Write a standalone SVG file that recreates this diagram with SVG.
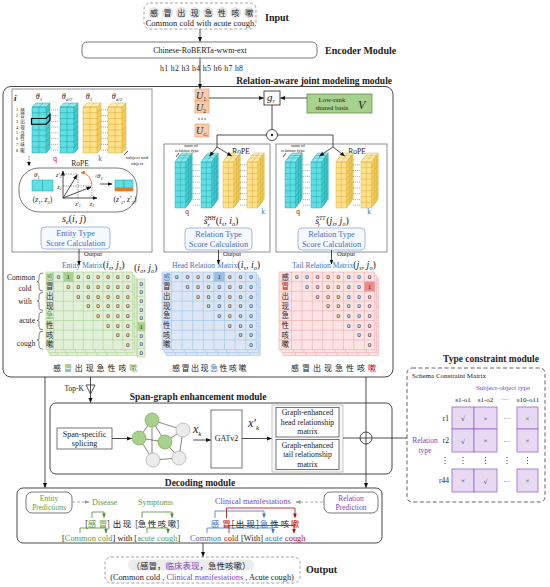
<svg xmlns="http://www.w3.org/2000/svg" width="550" height="587" viewBox="0 0 550 587">
<defs>
<style>
text{font-family:"Liberation Serif","Noto Sans CJK SC",serif;fill:#222}
.cj{font-family:"Noto Sans CJK SC","Liberation Serif",sans-serif}
.b{font-weight:bold}
.i{font-style:italic}
.m{text-anchor:middle}
.e{text-anchor:end}
.ln{fill:none;stroke:#222;stroke-width:0.8}
.dl{fill:none;stroke:#999;stroke-width:0.8;stroke-dasharray:3 2}
.bx{fill:#fff;stroke:#555;stroke-width:0.8}
.sc{fill:#f5f8fd;stroke:#8faadc;stroke-width:0.8}
.blue{fill:#4472c4}
.red{fill:#c00000}
.grn{fill:#5e9c3f}
.pur{fill:#7f3fbf}
.dig{font-size:7px;text-anchor:middle}
.lab{font-size:7.5px;text-anchor:middle}
.cell{fill:#e8d9f3;stroke:#9966cc;stroke-width:0.8}
</style>
<marker id="a" viewBox="0 0 10 10" refX="9" refY="5" markerWidth="5" markerHeight="5" markerUnits="userSpaceOnUse" orient="auto"><path d="M0,1L10,5L0,9Z" fill="#111"/></marker>
<marker id="ag" viewBox="0 0 10 10" refX="9" refY="5" markerWidth="5" markerHeight="5" markerUnits="userSpaceOnUse" orient="auto"><path d="M0,1L10,5L0,9Z" fill="#999"/></marker>
<marker id="aG" viewBox="0 0 10 10" refX="9" refY="5" markerWidth="4.5" markerHeight="4.5" markerUnits="userSpaceOnUse" orient="auto"><path d="M0,1L10,5L0,9Z" fill="#4f8a33"/></marker>
<marker id="aB" viewBox="0 0 10 10" refX="9" refY="5" markerWidth="4.5" markerHeight="4.5" markerUnits="userSpaceOnUse" orient="auto"><path d="M0,1L10,5L0,9Z" fill="#4472c4"/></marker>
<marker id="aR" viewBox="0 0 10 10" refX="9" refY="5" markerWidth="4.5" markerHeight="4.5" markerUnits="userSpaceOnUse" orient="auto"><path d="M0,1L10,5L0,9Z" fill="#c00000"/></marker>
<marker id="aO" viewBox="0 0 10 10" refX="9" refY="5" markerWidth="4" markerHeight="4" markerUnits="userSpaceOnUse" orient="auto"><path d="M0,1L10,5L0,9Z" fill="#e87722"/></marker>
<g id="cb">
<path d="M0,0L4,-4H18L14,0Z" fill="#8eeaec"/>
<path d="M14,0L18,-4V42L14,46Z" fill="#3fcbd0"/>
<rect width="14" height="46" fill="#5fdfe3"/>
<path d="M0,0L4,-4H18L14,0ZM14,46L18,42V-4M0,0H14V46H0ZM7,0V46M0,5.75H14M0,11.5H14M0,17.25H14M0,23H14M0,28.75H14M0,34.5H14M0,40.25H14M7,0L11,-4M14,5.75L18,1.75M14,11.5L18,7.5M14,17.25L18,13.25M14,23L18,19M14,28.75L18,24.75M14,34.5L18,30.5M14,40.25L18,36.25" fill="none" stroke="#1a9aa0" stroke-width="0.45"/>
</g>
<g id="yb">
<path d="M0,0L4,-4H18L14,0Z" fill="#ffeeb5"/>
<path d="M14,0L18,-4V42L14,46Z" fill="#f3cd62"/>
<rect width="14" height="46" fill="#ffe08c"/>
<path d="M0,0L4,-4H18L14,0ZM14,46L18,42V-4M0,0H14V46H0ZM7,0V46M0,5.75H14M0,11.5H14M0,17.25H14M0,23H14M0,28.75H14M0,34.5H14M0,40.25H14M7,0L11,-4M14,5.75L18,1.75M14,11.5L18,7.5M14,17.25L18,13.25M14,23L18,19M14,28.75L18,24.75M14,34.5L18,30.5M14,40.25L18,36.25" fill="none" stroke="#d4a31c" stroke-width="0.45"/>
</g>
<g id="cbs"><use href="#cb" x="5" y="-5"/><use href="#cb" x="2.5" y="-2.5"/><use href="#cb"/></g>
<g id="ybs"><use href="#yb" x="5" y="-5"/><use href="#yb" x="2.5" y="-2.5"/><use href="#yb"/></g>
<g id="dt" stroke="#333" stroke-width="0.6" stroke-dasharray="0.7 1.2"><path d="M0,2.9h7M0,8.65h7M0,14.4h7M0,20.15h7M0,25.9h7M0,31.65h7M0,37.4h7M0,43.15h7"/></g>
<g id="gE"><rect x="46" y="272" width="86.7" height="77.6" fill="#e2efd9"/><path d="M46,272V349.6M53.5,272V349.6M63.4,272V349.6M73.3,272V349.6M83.2,272V349.6M93.1,272V349.6M103,272V349.6M112.9,272V349.6M122.8,272V349.6M132.7,272V349.6M46,272H132.7M46,281.7H132.7M46,291.4H132.7M46,301.1H132.7M46,310.8H132.7M46,320.5H132.7M46,330.2H132.7M46,339.9H132.7M46,349.6H132.7" fill="none" stroke="#a9d18e" stroke-width="0.6"/></g>
<g id="gH"><rect x="162" y="272" width="94.3" height="77.6" fill="#dde6f5"/><path d="M162,272V349.6M171.5,272V349.6M182.1,272V349.6M192.7,272V349.6M203.3,272V349.6M213.9,272V349.6M224.5,272V349.6M235.1,272V349.6M245.7,272V349.6M256.3,272V349.6M162,272H256.3M162,281.7H256.3M162,291.4H256.3M162,301.1H256.3M162,310.8H256.3M162,320.5H256.3M162,330.2H256.3M162,339.9H256.3M162,349.6H256.3" fill="none" stroke="#9dc3e6" stroke-width="0.6"/></g>
<g id="gT"><rect x="279" y="272" width="95.7" height="77.6" fill="#fce4e4"/><path d="M279,272V349.6M291.5,272V349.6M301.9,272V349.6M312.3,272V349.6M322.7,272V349.6M333.1,272V349.6M343.5,272V349.6M353.9,272V349.6M364.3,272V349.6M374.7,272V349.6M279,272H374.7M279,281.7H374.7M279,291.4H374.7M279,301.1H374.7M279,310.8H374.7M279,320.5H374.7M279,330.2H374.7M279,339.9H374.7M279,349.6H374.7" fill="none" stroke="#f2a9a9" stroke-width="0.6"/></g>
</defs>
<rect width="550" height="587" fill="#fff"/>

<!-- Input -->
<g id="input">
<rect x="144" y="3" width="112" height="26" rx="6" fill="#fff" stroke="#999" stroke-width="0.9" stroke-dasharray="3 2"/>
<g fill="#e3e3e3"><circle cx="154" cy="12.5" r="5.5"/><circle cx="167.6" cy="12.5" r="5.5"/><circle cx="181.2" cy="12.5" r="5.5"/><circle cx="194.8" cy="12.5" r="5.5"/><circle cx="208.4" cy="12.5" r="5.5"/><circle cx="222" cy="12.5" r="5.5"/><circle cx="235.6" cy="12.5" r="5.5"/><circle cx="249.2" cy="12.5" r="5.5"/></g>
<text class="cj m" font-size="8" x="154 167.6 181.2 194.8 208.4 222 235.6 249.2" y="15.5">感冒出现急性咳嗽</text>
<text class="m" font-size="8.5" x="200" y="26">Common cold with acute cough</text>
<text class="b" font-size="10" x="265" y="20.5">Input</text>
</g>

<!-- Encoder -->
<g id="encoder">
<rect x="82" y="42" width="235" height="16" rx="5" class="bx"/>
<text class="m" font-size="8" x="200" y="53">Chinese-RoBERTa-wwm-ext</text>
<text class="b" font-size="10" x="325" y="53.5">Encoder Module</text>
<text font-size="7.8" x="160" y="70.5" textLength="83">h1 h2 h3 h4 h5 h6 h7 h8</text>
</g>

<!-- Relation-aware joint modeling module -->
<g id="relation-module">
<text class="b e" font-size="9.5" x="392" y="84">Relation-aware joint modeling module</text>
<rect x="3" y="86.5" width="390" height="290.5" rx="8" fill="none" stroke="#333" stroke-width="0.9"/>
</g>

<!-- Entity box -->
<g id="entity-box">
<rect x="12" y="89" width="140" height="163" fill="#fff" stroke="#777" stroke-width="0.8"/>
<text class="b i" font-size="9" x="14" y="101">i</text>
<text font-size="4.2" class="m" x="17 17 17 17 17 17 17 17" y="111.4 117.1 122.9 128.6 134.4 140.1 145.9 151.6">12345678</text>
<text font-size="4.6" class="cj m" x="22.5 22.5 22.5 22.5 22.5 22.5 22.5 22.5" y="111.5 117.2 123 128.7 134.5 140.2 146 151.7">感冒出现急性咳嗽</text>
<text class="i m" font-size="8" x="39" y="99">θ<tspan font-size="5" dy="1.5">1</tspan></text>
<text class="i m" font-size="8" x="67" y="99">θ<tspan font-size="5" dy="1.5">d/2</tspan></text>
<text class="i m" font-size="8" x="89" y="99">θ<tspan font-size="5" dy="1.5">1</tspan></text>
<text class="i m" font-size="8" x="117" y="99">θ<tspan font-size="5" dy="1.5">d/2</tspan></text>
<use href="#cb" x="32" y="107"/>
<use href="#cb" x="60" y="107"/>
<use href="#yb" x="83" y="107"/>
<use href="#yb" x="108" y="107"/>
<use href="#dt" x="51.5" y="107"/>
<use href="#dt" x="101.5" y="107"/>
<path d="M31.5,118.5H46L50,114.5V120.25L46,124.25H31.5Z" fill="none" stroke="#000" stroke-width="1.2"/>
<text class="red m" font-size="7.5" x="55" y="161">q</text>
<text class="blue m" font-size="7.5" x="100" y="161">k</text>
<text class="m" font-size="7.5" x="80" y="166">RoPE</text>
<path d="M124,155L128,151" class="ln" stroke-width="0.5"/>
<text class="m" font-size="5" x="137" y="159">subject and</text>
<text class="m" font-size="5" x="137" y="164.5">object</text>
<path d="M29,156V166" fill="none" stroke="#333" stroke-width="0.6" stroke-dasharray="1.5 1" marker-end="url(#a)"/>
<rect x="19" y="168" width="118" height="44" rx="20" fill="#fff" stroke="#555" stroke-width="0.8"/>
<text class="i" font-size="7" x="34" y="177">θ<tspan font-size="4.5" dy="1.5">1</tspan></text>
<g stroke="#1a9aa0" stroke-width="0.5" fill="#5fdfe3"><rect x="32" y="180" width="10.5" height="11"/><rect x="42.5" y="180" width="10.5" height="11"/></g>
<text class="m" font-size="7.5" x="42.5" y="202">(<tspan class="i">z</tspan><tspan font-size="5" dy="1.5">1</tspan><tspan dy="-1.5">, </tspan><tspan class="i">z</tspan><tspan font-size="5" dy="1.5">2</tspan><tspan dy="-1.5">)</tspan></text>
<path d="M63,198H97" class="ln" stroke-width="0.7" marker-end="url(#a)"/>
<path d="M63,198V171" class="ln" stroke-width="0.7" marker-end="url(#a)"/>
<path d="M63,174H78V198M63,186H92V198" fill="none" stroke="#333" stroke-width="0.5" stroke-dasharray="1.5 1"/>
<path d="M63,198L77,175" class="ln" stroke-width="0.7" marker-end="url(#a)"/>
<path d="M63,198L91,187" class="ln" stroke-width="0.7" marker-end="url(#a)"/>
<path d="M92,185Q91,174 81,172.5" fill="none" stroke="#e87722" stroke-width="0.9" marker-end="url(#aO)"/>
<circle cx="84" cy="172" r="1.2" fill="#e87722"/>
<text class="i" font-size="7" x="95" y="178"><tspan fill="#e87722">i</tspan>θ<tspan font-size="4.5" dy="1.5">1</tspan></text>
<text class="i e" font-size="6" x="61.5" y="176.5">z'<tspan font-size="4" dy="1.2">2</tspan></text>
<text class="i e" font-size="6" x="61.5" y="188.5">z<tspan font-size="4" dy="1.2">2</tspan></text>
<text class="i m" font-size="6" x="78" y="206">z'<tspan font-size="4" dy="1.2">1</tspan></text>
<text class="i m" font-size="6" x="92" y="206">z<tspan font-size="4" dy="1.2">1</tspan></text>
<path d="M100,184H112" class="ln" marker-end="url(#a)"/>
<g stroke="#1a9aa0" stroke-width="0.5" fill="#5fdfe3"><rect x="115" y="180" width="9" height="11"/><rect x="124" y="180" width="9" height="11"/></g>
<rect x="115" y="187.5" width="18" height="3.5" fill="#e87722"/>
<text class="m" font-size="7.5" x="125" y="202">(<tspan class="i">z'</tspan><tspan font-size="5" dy="1.5">1</tspan><tspan dy="-1.5">, </tspan><tspan class="i">z'</tspan><tspan font-size="5" dy="1.5">2</tspan><tspan dy="-1.5">)</tspan></text>
<text class="m" font-size="10" x="74" y="222"><tspan class="i">s</tspan><tspan font-size="6.5" dy="2" class="i">e</tspan><tspan dy="-2">(</tspan><tspan class="i">i</tspan>, <tspan class="i">j</tspan>)</text>
<rect x="41" y="227" width="69" height="22" rx="4" class="sc"/>
<text class="blue m" font-size="8.3" x="75.5" y="236">Entity Type</text>
<text class="blue m" font-size="8.3" x="75.5" y="246">Score Calculation</text>
</g>

<!-- U / g_r / V -->
<g id="u-stack">
<rect x="195" y="89" width="14" height="12" fill="#f8cbad" stroke="#ed9a6a" stroke-width="0.6"/>
<rect x="195" y="101" width="14" height="12" fill="#f8cbad" stroke="#ed9a6a" stroke-width="0.6"/>
<rect x="195" y="124" width="14" height="13" fill="#f8cbad" stroke="#ed9a6a" stroke-width="0.6"/>
<text class="i" font-size="10" x="196" y="99">U<tspan font-size="5.5" dy="2" font-style="normal">1</tspan></text>
<text class="i" font-size="10" x="196" y="111">U<tspan font-size="5.5" dy="2" font-style="normal">2</tspan></text>
<g fill="#222"><circle cx="199" cy="119" r="0.7"/><circle cx="202" cy="119" r="0.7"/><circle cx="205" cy="119" r="0.7"/></g>
<text class="i" font-size="10" x="196" y="134">U<tspan font-size="5" dy="2">C</tspan><tspan font-size="3.5" dy="1">r</tspan></text>
</g>
<g id="gr">
<rect x="264" y="91" width="16" height="14" fill="#fff" stroke="#222" stroke-width="0.8"/>
<text class="i" font-size="11" x="267" y="100.5">g<tspan font-size="6" dy="2">r</tspan></text>
</g>
<g id="shared-basis">
<rect x="307" y="94" width="65" height="19" fill="#a9d18e" stroke="#548235" stroke-width="0.7"/>
<text class="m" font-size="6.8" x="332" y="102">Low-rank</text>
<text class="m" font-size="6.8" x="332" y="110">shared basis</text>
<text class="i" font-size="12" x="358" y="108.5">V</text>
</g>
<g id="odot">
<circle cx="272" cy="135" r="5.5" fill="#fff" stroke="#222" stroke-width="0.8"/>
<circle cx="272" cy="135" r="1.2" fill="#222"/>
</g>

<!-- Head relation box -->
<g id="head-box">
<rect x="164" y="144" width="106" height="108" fill="#fff" stroke="#777" stroke-width="0.8"/>
<text class="m" font-size="4.8" x="191" y="147">num of</text>
<text class="m" font-size="4.8" x="187" y="151.5">relation type</text>
<path d="M176,157L179,153" class="ln" stroke-width="0.5"/>
<text class="m" font-size="7.5" x="241" y="154">RoPE</text>
<use href="#cbs" transform="translate(175,162) scale(0.75,1)"/>
<use href="#cbs" transform="translate(201,162) scale(0.75,1)"/>
<use href="#ybs" transform="translate(223,162) scale(0.75,1)"/>
<use href="#ybs" transform="translate(247,162) scale(0.75,1)"/>
<use href="#dt" x="193" y="162"/>
<use href="#dt" x="240" y="162"/>
<text class="red m" font-size="7.5" x="187" y="214">q</text>
<text class="blue m" font-size="7.5" x="263" y="214">k</text>
<text class="m" font-size="10" x="221" y="224"><tspan class="i">s̃</tspan><tspan font-size="5.5" dy="-4.5" class="i">HH</tspan><tspan font-size="5.5" dx="-8" dy="7" class="i">r</tspan><tspan dx="6" dy="-2.5">(</tspan><tspan class="i">i</tspan><tspan font-size="6" dy="2" class="i">s</tspan><tspan dy="-2">, </tspan><tspan class="i">i</tspan><tspan font-size="6" dy="2" class="i">o</tspan><tspan dy="-2">)</tspan></text>
<rect x="185" y="228" width="67" height="22" rx="4" class="sc"/>
<text class="blue m" font-size="8.3" x="218.5" y="237">Relation Type</text>
<text class="blue m" font-size="8.3" x="218.5" y="247">Score Calculation</text>
</g>

<!-- Tail relation box -->
<g id="tail-box">
<rect x="276" y="144" width="111" height="108" fill="#fff" stroke="#777" stroke-width="0.8"/>
<text class="m" font-size="4.8" x="298" y="147">num of</text>
<text class="m" font-size="4.8" x="293" y="151.5">relation type</text>
<path d="M283,157L286,153" class="ln" stroke-width="0.5"/>
<text class="m" font-size="7.5" x="357" y="154">RoPE</text>
<use href="#cbs" transform="translate(285,162) scale(0.75,1)"/>
<use href="#cbs" transform="translate(311,162) scale(0.75,1)"/>
<use href="#ybs" transform="translate(336,162) scale(0.75,1)"/>
<use href="#ybs" transform="translate(361,162) scale(0.75,1)"/>
<use href="#dt" x="303" y="162"/>
<use href="#dt" x="353.5" y="162"/>
<text class="red m" font-size="7.5" x="298" y="214">q</text>
<text class="blue m" font-size="7.5" x="369" y="214">k</text>
<text class="m" font-size="10" x="332" y="224"><tspan class="i">s̃</tspan><tspan font-size="5.5" dy="-4.5" class="i">TT</tspan><tspan font-size="5.5" dx="-7" dy="7" class="i">r</tspan><tspan dx="6" dy="-2.5">(</tspan><tspan class="i">j</tspan><tspan font-size="6" dy="2" class="i">s</tspan><tspan dy="-2">, </tspan><tspan class="i">j</tspan><tspan font-size="6" dy="2" class="i">o</tspan><tspan dy="-2">)</tspan></text>
<rect x="298" y="228" width="67" height="22" rx="4" class="sc"/>
<text class="blue m" font-size="8.3" x="331.5" y="237">Relation Type</text>
<text class="blue m" font-size="8.3" x="331.5" y="247">Score Calculation</text>
</g>

<!-- Entity matrix -->
<g id="entity-matrix">
<text font-size="6.5" x="84" y="256">Output</text>
<text font-size="7.5" x="62" y="267.5"><tspan class="blue">Entity Matrix</tspan><tspan font-size="10">(</tspan><tspan font-size="10" class="i">i</tspan><tspan font-size="6" dy="2" class="i">s</tspan><tspan font-size="10" dy="-2">, </tspan><tspan font-size="10" class="i">j</tspan><tspan font-size="6" dy="2" class="i">s</tspan><tspan font-size="10" dy="-2">)</tspan></text>
<text font-size="10" x="134" y="271">(<tspan class="i">i</tspan><tspan font-size="6" dy="2" class="i">o</tspan><tspan dy="-2">, </tspan><tspan class="i">j</tspan><tspan font-size="6" dy="2" class="i">o</tspan><tspan dy="-2">)</tspan></text>
<use href="#gE" x="4" y="6"/>
<use href="#gE" x="2" y="3"/>
<use href="#gE"/>
<rect x="63.4" y="272" width="9.9" height="9.7" fill="#a9d08e"/>
<g fill="#e2efd9" stroke="#a9d18e" stroke-width="0.6"><rect x="137.5" y="279" width="7.5" height="78"/></g>
<rect x="137.5" y="322.33" width="7.5" height="8.67" fill="#a9d08e"/>
<path d="M137.5,287.67h7.5M137.5,296.33h7.5M137.5,305h7.5M137.5,313.67h7.5M137.5,322.33h7.5M137.5,331h7.5M137.5,339.67h7.5M137.5,348.33h7.5" stroke="#a9d18e" stroke-width="0.6"/>
<text class="dig" font-size="6.5" x="141.25 141.25 141.25 141.25 141.25 141.25 141.25 141.25 141.25" y="285.6 294.3 302.9 311.6 320.3 328.9 337.6 346.3 354.9">000001000</text>
<g class="dig">
<text x="58.45 68.35 78.25 88.15 98.05 107.95 117.85 127.75" y="279.2">01000000</text>
<text x="68.35 78.25 88.15 98.05 107.95 117.85 127.75" y="288.9">0000000</text>
<text x="78.25 88.15 98.05 107.95 117.85 127.75" y="298.6">000000</text>
<text x="88.15 98.05 107.95 117.85 127.75" y="308.3">00000</text>
<text x="98.05 107.95 117.85 127.75" y="318">0000</text>
<text x="107.95 117.85 127.75" y="327.7">000</text>
<text x="117.85 127.75" y="337.4">00</text>
<text x="127.75" y="347.1">0</text>
</g>
<text class="cj lab" x="49.75 49.75 49.75 49.75 49.75 49.75 49.75 49.75" y="279.5 289.2 298.9 308.6 318.3 328 337.7 347.4"><tspan class="grn">感</tspan>冒出现<tspan class="grn">急</tspan>性咳嗽</text>
<text class="cj" font-size="8" text-anchor="middle" x="57 67.9 78.8 89.7 100.6 111.5 122.4 133.3" y="371">感<tspan class="grn">冒</tspan>出现急性咳<tspan class="grn">嗽</tspan></text>
<text class="e" font-size="7.5" x="35" y="280">Common</text>
<text class="m" font-size="7.5" x="25" y="291">cold</text>
<text class="m" font-size="7.5" x="25" y="304">with</text>
<text class="e" font-size="7.5" x="35" y="323">acute</text>
<text class="m" font-size="7.5" x="26" y="346">cough</text>
<path d="M43,273Q39,273 39,276V280Q39,281.7 37,281.7Q39,281.7 39,283.4V288Q39,291 43,291M43,292.4Q39,292.4 39,295.4V299.4Q39,301.1 37,301.1Q39,301.1 39,302.8V307.4Q39,310.4 43,310.4M43,311.8Q39,311.8 39,314.8V318.8Q39,320.5 37,320.5Q39,320.5 39,322.2V326.8Q39,329.8 43,329.8M43,331.2Q39,331.2 39,334.2V338.2Q39,339.9 37,339.9Q39,339.9 39,341.6V346.2Q39,349.2 43,349.2" fill="none" stroke="#333" stroke-width="0.6"/>
</g>

<!-- Head matrix -->
<g id="head-matrix">
<text font-size="6.5" x="223" y="255.5">Output</text>
<text font-size="7.5" x="172" y="267.5"><tspan class="blue">Head Relation Matrix</tspan><tspan font-size="10">(</tspan><tspan font-size="10" class="i">i</tspan><tspan font-size="6" dy="2" class="i">s</tspan><tspan font-size="10" dy="-2">, </tspan><tspan font-size="10" class="i">i</tspan><tspan font-size="6" dy="2" class="i">o</tspan><tspan font-size="10" dy="-2">)</tspan></text>
<use href="#gH" x="4" y="6"/>
<use href="#gH" x="2" y="3"/>
<use href="#gH"/>
<rect x="213.9" y="272" width="10.6" height="9.7" fill="#9dbfe6"/>
<g class="dig">
<text x="176.8 187.4 198 208.6 219.2 229.8 240.4 251" y="279.2">00001000</text>
<text x="187.4 198 208.6 219.2 229.8 240.4 251" y="288.9">0000000</text>
<text x="198 208.6 219.2 229.8 240.4 251" y="298.6">000000</text>
<text x="208.6 219.2 229.8 240.4 251" y="308.3">00000</text>
<text x="219.2 229.8 240.4 251" y="318">0000</text>
<text x="229.8 240.4 251" y="327.7">000</text>
<text x="240.4 251" y="337.4">00</text>
<text x="251" y="347.1">0</text>
</g>
<text class="cj lab" x="166.75 166.75 166.75 166.75 166.75 166.75 166.75 166.75" y="279.5 289.2 298.9 308.6 318.3 328 337.7 347.4"><tspan class="blue">感</tspan>冒出现急性咳嗽</text>
<text class="cj" font-size="8" text-anchor="middle" x="176 185.5 195 204.5 214 223.5 233 242.5" y="371">感冒出现<tspan class="blue">急</tspan>性咳嗽</text>
</g>

<!-- Tail matrix -->
<g id="tail-matrix">
<text font-size="6.5" x="337" y="255.5">Output</text>
<text font-size="7.5" x="292" y="267.5"><tspan class="blue">Tail Relation Matrix</tspan><tspan font-size="10">(</tspan><tspan font-size="10" class="i">j</tspan><tspan font-size="6" dy="2" class="i">s</tspan><tspan font-size="10" dy="-2">, </tspan><tspan font-size="10" class="i">j</tspan><tspan font-size="6" dy="2" class="i">o</tspan><tspan font-size="10" dy="-2">)</tspan></text>
<use href="#gT" x="4" y="6"/>
<use href="#gT" x="2" y="3"/>
<use href="#gT"/>
<rect x="364.3" y="281.7" width="10.4" height="9.7" fill="#f08c8c"/>
<g class="dig">
<text x="296.7 307.1 317.5 327.9 338.3 348.7 359.1 369.5" y="279.2">00000000</text>
<text x="307.1 317.5 327.9 338.3 348.7 359.1 369.5" y="288.9">0000001</text>
<text x="317.5 327.9 338.3 348.7 359.1 369.5" y="298.6">000000</text>
<text x="327.9 338.3 348.7 359.1 369.5" y="308.3">00000</text>
<text x="338.3 348.7 359.1 369.5" y="318">0000</text>
<text x="348.7 359.1 369.5" y="327.7">000</text>
<text x="359.1 369.5" y="337.4">00</text>
<text x="369.5" y="347.1">0</text>
</g>
<text class="cj lab" x="285.25 285.25 285.25 285.25 285.25 285.25 285.25 285.25" y="279.5 289.2 298.9 308.6 318.3 328 337.7 347.4">感<tspan class="red">冒</tspan>出现急性咳嗽</text>
<text class="cj" font-size="8" text-anchor="middle" x="295 306 317 328 339 350 361 372" y="371">感冒出现急性咳<tspan class="red">嗽</tspan></text>
</g>

<!-- Top-K -->
<g id="topk">
<text class="e" font-size="7.5" x="84" y="391">Top-K</text>
<polygon points="86,385 95,385 90.5,394" fill="#fff" stroke="#222" stroke-width="0.8"/>
</g>

<!-- Span-graph enhancement module -->
<g id="span-graph-module">
<text class="b m" font-size="9.5" x="198" y="400">Span-graph enhancement module</text>
<rect x="50" y="403" width="342" height="71" rx="6" fill="none" stroke="#333" stroke-width="0.9"/>
</g>
<g id="span-splicing">
<rect x="57" y="428" width="55" height="21" class="bx" stroke="#222"/>
<text class="m" font-size="8" x="84.5" y="436.5">Span-specific</text>
<text class="m" font-size="8" x="84.5" y="446">splicing</text>
</g>
<g id="graph">
<path d="M152,420L139,438M152,420L165,442M152,420V460M152,420L183,430M139,438L165,442M139,438L153,460M165,442L183,430M183,430L179,458M153,460L179,458M165,442L179,458" fill="none" stroke="#333" stroke-width="0.6"/>
<g fill="#a9d18e" stroke="#70ad47" stroke-width="0.7"><circle cx="152" cy="420" r="7"/><circle cx="139" cy="438" r="7"/><circle cx="165" cy="442" r="7"/></g>
<g fill="#ececec" stroke="#aaa" stroke-width="0.7"><circle cx="183" cy="430" r="7"/><circle cx="153" cy="460" r="7"/><circle cx="179" cy="458" r="7"/></g>
</g>
<g id="gatv2">
<text class="i" font-size="12" x="193" y="433">x<tspan font-size="7" dy="2.5">k</tspan></text>
<rect x="211" y="410" width="31" height="58" class="bx" stroke="#222"/>
<text class="m" font-size="8" x="226.5" y="441">GATv2</text>
<text class="i" font-size="12" x="248" y="427">x'<tspan font-size="7" dy="2.5">k</tspan></text>
</g>
<g id="graph-enhanced">
<rect x="272" y="405" width="71" height="67" fill="#f7f7f7" stroke="#bbb" stroke-width="0.8"/>
<rect x="276" y="407.5" width="63" height="29.5" class="bx" stroke="#333"/>
<rect x="276" y="439.5" width="63" height="30" class="bx" stroke="#333"/>
<text class="m" font-size="7.8" x="307.5" y="415">Graph-enhanced</text>
<text class="m" font-size="7.8" x="307.5" y="424.5">head relationship</text>
<text class="m" font-size="7.8" x="307.5" y="434">matrix</text>
<text class="m" font-size="7.8" x="307.5" y="447.5">Graph-enhanced</text>
<text class="m" font-size="7.8" x="307.5" y="457">tail relationship</text>
<text class="m" font-size="7.8" x="307.5" y="466.5">matrix</text>
</g>

<!-- Type constraint module -->
<g id="type-constraint">
<text class="b" font-size="9.5" x="443" y="362">Type constraint module</text>
<rect x="407" y="368" width="138" height="134" rx="5" fill="none" stroke="#555" stroke-width="0.9" stroke-dasharray="4 2.5"/>
<text font-size="7" x="412" y="378">Schema Constraint Matrix</text>
<text class="pur m" font-size="7" x="503" y="390">Subject-object type</text>
<text class="m" font-size="7" x="463" y="401.5">s1-o1</text>
<text class="m" font-size="7" x="485.5" y="401.5">s1-o2</text>
<text class="m" font-size="7" x="505" y="401.5">···</text>
<text class="m" font-size="7" x="528" y="401.5">s10-o11</text>
<rect class="cell" x="452" y="407" width="22" height="22"/><rect class="cell" x="474" y="407" width="23" height="22"/><rect class="cell" x="517" y="407" width="21" height="22"/>
<rect class="cell" x="452" y="429" width="22" height="23"/><rect class="cell" x="474" y="429" width="23" height="23"/><rect class="cell" x="517" y="429" width="21" height="23"/>
<rect class="cell" x="452" y="469" width="22" height="23"/><rect class="cell" x="474" y="469" width="23" height="23"/><rect class="cell" x="517" y="469" width="21" height="23"/>
<text class="e" font-size="7.5" x="449" y="421">r1</text>
<text class="e" font-size="7.5" x="449" y="443">r2</text>
<text class="e" font-size="7.5" x="449" y="483">r44</text>
<text class="pur m" font-size="7.5" x="425" y="443">Relation</text>
<text class="pur m" font-size="7.5" x="425" y="453">type</text>
<g font-size="7" text-anchor="middle">
<text x="463" y="421" fill="#4a2a6a">√</text><text x="485.5" y="420.5" fill="#9966cc">×</text><text x="507" y="421">···</text><text x="527.5" y="420.5" fill="#9966cc">×</text>
<text x="463" y="443.5" fill="#4a2a6a">√</text><text x="485.5" y="443" fill="#9966cc">×</text><text x="507" y="443.5">···</text><text x="527.5" y="443" fill="#9966cc">×</text>
<text x="463" y="483" fill="#9966cc">×</text><text x="485.5" y="483.5" fill="#4a2a6a">√</text><text x="507" y="483.5">···</text><text x="527.5" y="483" fill="#9966cc">×</text>
</g>
<g fill="#333"><circle cx="445" cy="457.5" r="0.6"/><circle cx="445" cy="460.5" r="0.6"/><circle cx="445" cy="463.5" r="0.6"/><circle cx="463" cy="457.5" r="0.6"/><circle cx="463" cy="460.5" r="0.6"/><circle cx="463" cy="463.5" r="0.6"/><circle cx="485.5" cy="457.5" r="0.6"/><circle cx="485.5" cy="460.5" r="0.6"/><circle cx="485.5" cy="463.5" r="0.6"/><circle cx="507" cy="457.5" r="0.6"/><circle cx="507" cy="460.5" r="0.6"/><circle cx="507" cy="463.5" r="0.6"/><circle cx="527.5" cy="457.5" r="0.6"/><circle cx="527.5" cy="460.5" r="0.6"/><circle cx="527.5" cy="463.5" r="0.6"/></g>
</g>

<!-- Decoding module -->
<g id="decoding-module">
<text class="b m" font-size="9.5" x="200" y="486">Decoding module</text>
<rect x="17" y="488" width="365" height="55" rx="6" fill="none" stroke="#333" stroke-width="0.9"/>
</g>
<g id="entity-predictions">
<rect x="26" y="492" width="46" height="21" rx="6" class="bx" stroke="#333"/>
<text class="grn m" font-size="7.5" x="49" y="500.5">Entity</text>
<text class="grn m" font-size="7.5" x="49" y="509.5">Predictions</text>
</g>
<g id="relation-prediction">
<rect x="324" y="492" width="54" height="21" rx="6" class="bx" stroke="#333"/>
<text class="pur m" font-size="7.5" x="351" y="500.5">Relation</text>
<text class="pur m" font-size="7.5" x="351" y="509.5">Prediction</text>
</g>
<g id="decode-labels">
<text class="grn" font-size="8.2" x="92" y="505">Disease</text>
<text class="grn" font-size="8.2" x="138" y="505">Symptoms</text>
<text class="pur" font-size="8.2" x="215" y="504">Clinical manifestations</text>
<text class="cj" font-size="8.5" text-anchor="middle" x="86.5 92 103 108.5 117 127 136.5 142 152 162 172 178" y="527">[<tspan class="grn">感冒</tspan>]出现[急性咳嗽]</text>
<text font-size="8.4" x="62" y="541">[<tspan class="grn">Common cold</tspan>] with [<tspan class="grn">acute cough</tspan>]</text>
<text class="cj" font-size="8.5" text-anchor="middle" x="215 226.5 233 240 250.5 257.5 264 274.5 285 295" y="527"><tspan class="blue">感</tspan><tspan class="red">冒</tspan>[出现]<tspan class="blue">急</tspan>性咳<tspan class="red">嗽</tspan></text>
<text font-size="8.4" x="190" y="541" class="blue">Common</text>
<text font-size="8.4" x="224" y="541" class="red">cold</text>
<text font-size="8.4" x="241" y="541">[With]</text>
<text font-size="8.4" x="265" y="541" class="blue">acute</text>
<text font-size="8.4" x="285" y="541" class="red">cough</text>
</g>

<!-- Output -->
<g id="output">
<rect x="105" y="557" width="195" height="26" rx="6" fill="#fff" stroke="#999" stroke-width="0.9" stroke-dasharray="3 2"/>
<rect x="128" y="559.5" width="126" height="11" rx="5" fill="#ececec"/>
<text class="cj m" font-size="8.5" x="191" y="568.5">（感冒，<tspan class="pur">临床表现</tspan>，急性咳嗽）</text>
<text class="m" font-size="8.3" x="202" y="579.5">(Common cold , <tspan class="pur">Clinical manifestations</tspan> , Acute cough)</text>
<text class="b" font-size="10" x="306" y="573">Output</text>
</g>

<!-- Connectors -->
<g id="connectors">
<path d="M200,29V41.5" class="ln" marker-end="url(#a)"/>
<path d="M200,58V88.5" class="ln" marker-end="url(#a)"/>
<path d="M209,98H263.5" class="ln" marker-end="url(#a)"/>
<path d="M307,98H280.5" class="ln" marker-end="url(#a)"/>
<path d="M272,105V129.5" class="ln"/>
<path d="M266.5,135H217V147M277.5,135H333V147" class="ln"/>
<path d="M217,147L209.6,156" class="ln" marker-end="url(#a)"/>
<path d="M217,147L231.6,156" class="ln" marker-end="url(#a)"/>
<path d="M333,147L319.6,156" class="ln" marker-end="url(#a)"/>
<path d="M333,147L344.6,156" class="ln" marker-end="url(#a)"/>
<path d="M79,249V265" class="ln" marker-end="url(#a)"/>
<path d="M218.5,250V264" class="ln" marker-end="url(#a)"/>
<path d="M331.5,250V264" class="ln" marker-end="url(#a)"/>
<path d="M45,377V487.5" class="ln" marker-end="url(#a)"/>
<path d="M366,377V487.5" class="ln" marker-end="url(#a)"/>
<path d="M90.5,377V402.5" class="ln" marker-end="url(#a)"/>
<path d="M112,438.5H131.5" class="ln" marker-end="url(#a)"/>
<path d="M193,440H210.5" class="ln" marker-end="url(#a)"/>
<path d="M242,438.5H271.5" class="ln" marker-end="url(#a)"/>
<path d="M343,438H360M372,438H407" class="ln"/>
<circle cx="366" cy="438" r="6" fill="#fff" stroke="#222" stroke-width="0.8"/>
<path d="M360,438H372M366,432V444" class="ln"/>
<path d="M72,502H89" class="dl" marker-end="url(#ag)"/>
<path d="M323,502H296" class="dl" marker-end="url(#ag)"/>
<path d="M92,518V512H104V517.5" fill="none" stroke="#4f8a33" stroke-width="0.8" marker-end="url(#aG)"/>
<path d="M142,518V512H172V517.5" fill="none" stroke="#4f8a33" stroke-width="0.8" marker-end="url(#aG)"/>
<path d="M80,533V528H106V533" fill="none" stroke="#4f8a33" stroke-width="0.8" marker-end="url(#aG)"/>
<path d="M147,533V528H168V533" fill="none" stroke="#4f8a33" stroke-width="0.8" marker-end="url(#aG)"/>
<path d="M215,518V511H264V517.5" fill="none" stroke="#4472c4" stroke-width="0.8" marker-end="url(#aB)"/>
<path d="M226.5,518V508H295V517.5" fill="none" stroke="#c00000" stroke-width="0.8" marker-end="url(#aR)"/>
<path d="M207,533V528H273V533" fill="none" stroke="#4472c4" stroke-width="0.8" marker-end="url(#aB)"/>
<path d="M229,533V525.5H294V533" fill="none" stroke="#c00000" stroke-width="0.8" marker-end="url(#aR)"/>
<path d="M203,543V556.5" class="ln" marker-end="url(#a)"/>
</g>
</svg>
